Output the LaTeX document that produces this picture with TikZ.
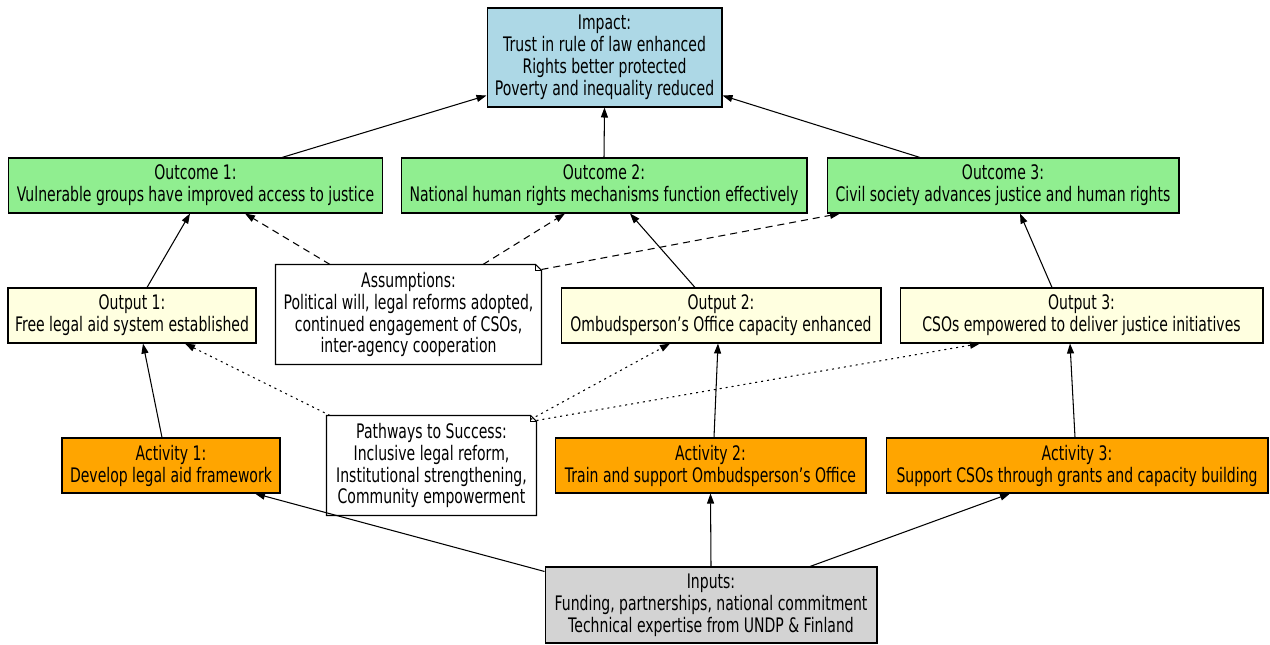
\documentclass[tikz,border=0pt]{standalone}
\usepackage{fontspec}
\setmainfont{DejaVu Sans}[FakeStretch=0.7]
\usepackage{tikz}
\usetikzlibrary{arrows.meta}

\definecolor{impactblue}{HTML}{ADD8E6}
\definecolor{outcomegreen}{HTML}{90EE90}
\definecolor{outputyellow}{HTML}{FFFFE0}
\definecolor{activityorange}{HTML}{FFA500}
\definecolor{inputgray}{HTML}{D3D3D3}

\tikzset{
  box/.style = {draw, line width=0.6pt, align=center, inner sep=0pt, minimum height=1.1cm,
    font=\fontsize{11.4}{12.5}\selectfont},
  impactbox/.style = {box, fill=impactblue},
  outcomebox/.style = {box, fill=outcomegreen},
  outputbox/.style = {box, fill=outputyellow},
  activitybox/.style = {box, fill=activityorange},
  inputbox/.style = {box, fill=inputgray},
  notebox/.style = {box, draw=none, fill=white},
  link/.style = {line width=0.6pt, -{Triangle[length=0.2cm, width=0.14cm]}},
  assume/.style = {link, dash pattern=on 0.14cm off 0.1cm},
  pathway/.style = {link, dash pattern=on 0.04cm off 0.08cm}
}

% outline of a note with a folded corner
\newcommand{\foldnote}[1]{%
  \draw[line width=0.6pt] (#1.north west) -- ([xshift=-0.12cm]#1.north east)
    -- ([yshift=-0.12cm]#1.north east) -- (#1.south east) -- (#1.south west) -- cycle;
  \draw[line width=0.4pt] ([xshift=-0.12cm]#1.north east) |- ([yshift=-0.12cm]#1.north east);}

\begin{document}
\begin{tikzpicture}[x=0.02cm, y=-0.02cm]
  \useasboundingbox (0,0) rectangle (1270,645);

  \node[impactbox, minimum width=4.7cm, minimum height=1.98cm] (impact) at (604.5,57.5)
    {Impact:\\Trust in rule of law enhanced\\Rights better protected\\Poverty and inequality reduced};

  \node[outcomebox, minimum width=7.5cm] (outcomeA) at (195.5,185.5)
    {Outcome 1:\\Vulnerable groups have improved access to justice};
  \node[outcomebox, minimum width=8.12cm] (outcomeB) at (604,185.5)
    {Outcome 2:\\National human rights mechanisms function effectively};
  \node[outcomebox, minimum width=7.04cm] (outcomeC) at (1003,185.5)
    {Outcome 3:\\Civil society advances justice and human rights};

  \node[outputbox, minimum width=4.96cm] (outputA) at (132,315.5)
    {Output 1:\\Free legal aid system established};
  \node[notebox, minimum width=5.3cm, minimum height=1.98cm] (assumptions) at (408.5,314.5)
    {Assumptions:\\Political will, legal reforms adopted,\\continued engagement of CSOs,\\inter-agency cooperation};
  \node[outputbox, minimum width=6.4cm] (outputB) at (721,315.5)
    {Output 2:\\Ombudsperson’s Office capacity enhanced};
  \node[outputbox, minimum width=7.26cm] (outputC) at (1081.5,315.5)
    {Output 3:\\CSOs empowered to deliver justice initiatives};

  \node[activitybox, minimum width=4.36cm] (activityA) at (171,465.5)
    {Activity 1:\\Develop legal aid framework};
  \node[notebox, minimum width=4.18cm, minimum height=1.98cm] (pathways) at (431.5,465.5)
    {Pathways to Success:\\Inclusive legal reform,\\Institutional strengthening,\\Community empowerment};
  \node[activitybox, minimum width=6.22cm] (activityB) at (710.5,465.5)
    {Activity 2:\\Train and support Ombudsperson’s Office};
  \node[activitybox, minimum width=7.64cm] (activityC) at (1077,465.5)
    {Activity 3:\\Support CSOs through grants and capacity building};

  \node[inputbox, minimum width=6.64cm, minimum height=1.52cm] (inputs) at (711,605)
    {Inputs:\\Funding, partnerships, national commitment\\Technical expertise from UNDP \& Finland};

  \foldnote{assumptions}
  \foldnote{pathways}

  % results chain
  \draw[link] ([xshift=1.73cm]outcomeA.north) -- ([yshift=0.24cm]impact.south west);
  \draw[link] (outcomeB.north) -- (impact.south);
  \draw[link] ([xshift=-1.66cm]outcomeC.north) -- ([yshift=0.24cm]impact.south east);

  \draw[link] ([xshift=0.3cm]outputA.north) -- ([xshift=-0.11cm]outcomeA.south);
  \draw[link] ([xshift=-0.52cm]outputB.north) -- ([xshift=0.52cm]outcomeB.south);
  \draw[link] ([xshift=-0.59cm]outputC.north) -- ([xshift=0.34cm]outcomeC.south);

  \draw[link] ([xshift=-0.18cm]activityA.north) -- ([xshift=0.22cm]outputA.south);
  \draw[link] ([xshift=0.07cm]activityB.north) -- ([xshift=-0.06cm]outputB.south);
  \draw[link] ([xshift=-0.04cm]activityC.north) -- ([xshift=-0.23cm]outputC.south);

  \draw[link] ([yshift=-0.1cm]inputs.north west) -- ([xshift=1.68cm]activityA.south);
  \draw[link] (inputs.north) -- (activityB.south);
  \draw[link] ([xshift=1.98cm]inputs.north) -- ([xshift=-1.34cm]activityC.south);

  % assumptions and pathways
  \draw[assume] ([xshift=-1.57cm]assumptions.north) -- ([xshift=0.99cm]outcomeA.south);
  \draw[assume] ([xshift=1.49cm]assumptions.north) -- ([xshift=-0.78cm]outcomeB.south);
  \draw[assume] ([yshift=-0.1cm]assumptions.north east) -- ([xshift=-3.26cm]outcomeC.south);

  \draw[pathway] ([xshift=-2.03cm]pathways.north) -- ([xshift=1.06cm]outputA.south);
  \draw[pathway] ([xshift=-0.12cm,yshift=-0.08cm]pathways.north east) -- ([xshift=-1.02cm]outputB.south);
  \draw[pathway] ([yshift=-0.1cm]pathways.north east) -- ([xshift=-2.03cm]outputC.south);
\end{tikzpicture}
\end{document}
